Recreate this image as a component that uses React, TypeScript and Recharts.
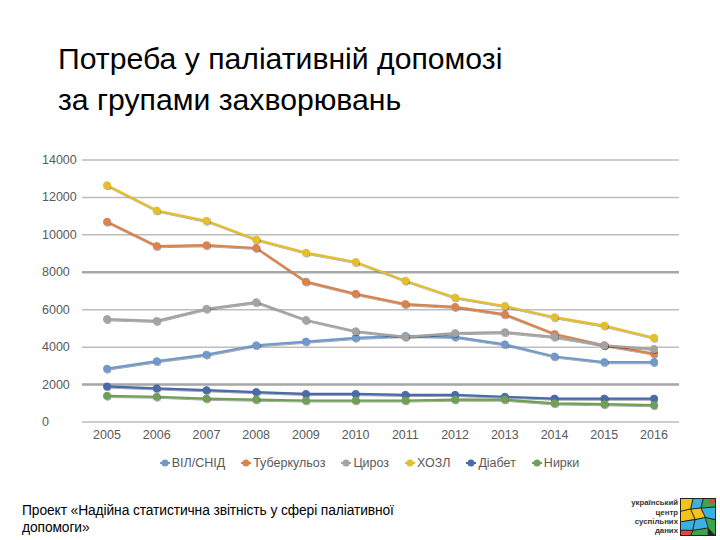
import React from 'react'
import { CartesianGrid, Legend, Line, LineChart, ReferenceLine, XAxis, YAxis } from 'recharts'

const years = ['2005', '2006', '2007', '2008', '2009', '2010', '2011', '2012', '2013', '2014', '2015', '2016']
const hivAids = [2850, 3250, 3600, 4100, 4300, 4500, 4600, 4550, 4150, 3500, 3200, 3200]
const tuberculosis = [10700, 9400, 9450, 9300, 7500, 6850, 6300, 6150, 5750, 4700, 4100, 3650]
const cirrhosis = [5500, 5400, 6050, 6400, 5450, 4850, 4550, 4750, 4800, 4550, 4100, 3900]
const copd = [12650, 11300, 10750, 9750, 9050, 8550, 7550, 6650, 6200, 5600, 5150, 4500]
const diabetes = [1900, 1800, 1700, 1600, 1500, 1500, 1450, 1450, 1350, 1250, 1250, 1250]
const kidneys = [1400, 1350, 1250, 1200, 1150, 1150, 1150, 1200, 1200, 1000, 950, 900]
const yTicks = [0, 2000, 4000, 6000, 8000, 10000, 12000, 14000]

const SERIES = [
  { key: 'hiv', name: 'ВІЛ/СНІД', values: hivAids, color: '#6f9acb' },
  { key: 'tb', name: 'Туберкульоз', values: tuberculosis, color: '#d9834e' },
  { key: 'cirr', name: 'Цироз', values: cirrhosis, color: '#a3a3a3' },
  { key: 'copd', name: 'ХОЗЛ', values: copd, color: '#e4bf2c' },
  { key: 'diab', name: 'Діабет', values: diabetes, color: '#4a6ca8' },
  { key: 'kid', name: 'Нирки', values: kidneys, color: '#6fa057' },
]

const data = years.map((year, i) => {
  const row: Record<string, string | number> = { year }
  SERIES.forEach((s) => (row[s.key] = s.values[i]))
  return row
})

const FONT = '"Liberation Sans", Arial, sans-serif'
const TEXT = '#595959'

function YTick(props: any) {
  return (
    <text x={12} y={props.y} dy={4} textAnchor="start" fill={TEXT} fontSize={12.5} fontFamily={FONT}>
      {props.payload.value}
    </text>
  )
}

function LegendContent() {
  return (
    <div style={{ display: 'flex', justifyContent: 'center', gap: 16, height: 28, alignItems: 'flex-start', paddingTop: 4, paddingLeft: 30, boxSizing: 'border-box', fontFamily: FONT, fontSize: 12.5, color: TEXT }}>
      {SERIES.map((s) => (
        <div key={s.key} style={{ display: 'flex', alignItems: 'center', gap: 2 }}>
          <svg width={10} height={10}>
            <line x1={0} y1={5} x2={10} y2={5} stroke={s.color} strokeWidth={2} />
            <circle cx={5} cy={5} r={3.5} fill={s.color} />
          </svg>
          <span>{s.name}</span>
        </div>
      ))}
    </div>
  )
}

function Logo() {
  return (
    <div style={{ position: 'absolute', left: 596, top: 497, width: 122, height: 40, display: 'flex', alignItems: 'center', gap: 2 }}>
      <div style={{ width: 82, textAlign: 'right', fontFamily: FONT, fontWeight: 700, fontSize: 7.8, lineHeight: '9.3px', color: '#333' }}>
        український<br />центр<br />суспільних<br />даних
      </div>
      <svg width={36} height={38} viewBox="0 0 35 36" preserveAspectRatio="none">
        <rect x={0} y={0} width={35} height={36} fill="#222" />
        <polygon points="1,1 12,1 10,10 1,12" fill="#f2c318" />
        <polygon points="13,1 22,1 20,9 11,10" fill="#3cb0e2" />
        <polygon points="23,1 34,1 34,8 21,9" fill="#3aa64a" />
        <polygon points="1,13 10,11 14,20 1,22" fill="#f2c318" />
        <polygon points="11,11 20,10 24,18 15,20" fill="#f2c318" />
        <polygon points="21,10 34,9 34,20 25,18" fill="#3cb0e2" />
        <polygon points="1,23 14,21 12,30 1,30" fill="#3cb0e2" />
        <polygon points="15,21 24,19 27,28 13,30" fill="#3cb0e2" />
        <polygon points="25,19 34,21 34,35 28,29" fill="#3aa64a" />
        <polygon points="1,31 12,31 10,35 1,35" fill="#e0463c" />
        <polygon points="13,31 27,29 27,35 11,35" fill="#3aa64a" />
        <polygon points="28,1 34,1 34,4 29,5" fill="#e0463c" />
      </svg>
    </div>
  )
}

export default function App() {
  return (
    <div style={{ position: 'fixed', left: 0, top: 0, width: 720, height: 540, background: '#fff', overflow: 'hidden' }}>
      <div style={{ position: 'absolute', left: 58, top: 38, fontFamily: FONT, fontSize: 30.2, lineHeight: '41px', color: '#000' }}>
        Потреба у паліативній допомозі
        <br />
        за групами захворювань
      </div>

      <div style={{ position: 'absolute', left: 30, top: 150 }}>
        <LineChart width={670} height={330} data={data} margin={{ top: 10, right: 21, left: 0, bottom: 0 }}>
          <defs>
            <filter id="lineShadow" x="-5%" y="-20%" width="110%" height="140%">
              <feDropShadow dx={0.6} dy={0.8} stdDeviation={0.5} floodColor="#000" floodOpacity={0.45} />
            </filter>
          </defs>
          <CartesianGrid vertical={false} stroke="#bdbdbd" strokeWidth={1.5} />
          <ReferenceLine y={8000} stroke="#a8a8a8" strokeWidth={2.5} />
          <ReferenceLine y={2000} stroke="#a8a8a8" strokeWidth={2.5} />
          <XAxis
            dataKey="year"
            padding={{ left: 25, right: 25 }}
            axisLine={false}
            tickLine={false}
            height={30}
            tick={{ fill: TEXT, fontSize: 12.5, fontFamily: FONT }}
          />
          <YAxis
            domain={[0, 14000]}
            ticks={yTicks}
            width={52}
            axisLine={false}
            tickLine={false}
            tick={<YTick />}
          />
          <Legend verticalAlign="bottom" height={28} content={<LegendContent />} />
          {SERIES.map((s) => (
            <Line
              key={s.key}
              dataKey={s.key}
              name={s.name}
              stroke={s.color}
              strokeWidth={2.2}
              filter="url(#lineShadow)"
              dot={{ r: 3.5, fill: s.color, stroke: s.color, strokeWidth: 1 }}
              isAnimationActive={false}
            />
          ))}
        </LineChart>
      </div>

      <div style={{ position: 'absolute', left: 22, top: 502, fontFamily: FONT, fontSize: 13.8, lineHeight: '17px', color: '#000', letterSpacing: -0.1 }}>
        Проект «Надійна статистична звітність у сфері паліативної
        <br />
        допомоги»
      </div>
      <Logo />
    </div>
  )
}
